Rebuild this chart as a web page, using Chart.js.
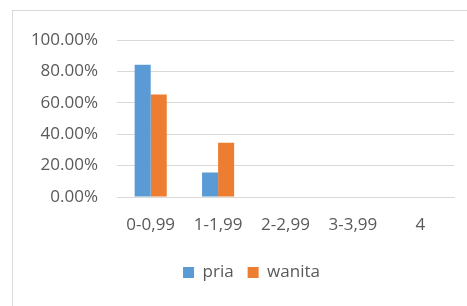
<!DOCTYPE html>
<html>
<head>
<meta charset="utf-8">
<script src="https://cdn.jsdelivr.net/npm/chart.js@4/dist/chart.umd.min.js"></script>
<style>
  html, body { margin: 0; padding: 0; background: #fff; overflow: hidden; }
  body { width: 467px; height: 306px; position: relative; }
  .frame {
    position: absolute; left: 12px; top: 10px;
    width: 478px; height: 296px;
    border-top: 1px solid #d9d9d9; border-left: 1px solid #d9d9d9;
  }
  .frame canvas { display: block; }
</style>
</head>
<body>
<div class="frame"><canvas id="grafico" width="478" height="295"></canvas></div>
<script>
// kategori dan nilai (persen)
const kategori = ['0-0,99', '1-1,99', '2-2,99', '3-3,99', '4'];
const nilaiPria = [84.4, 15.6, 0, 0, 0];
const nilaiWanita = [65.4, 34.6, 0, 0, 0];
const tickY = [0, 20, 40, 60, 80, 100];

const warnaTeks = '#595959';
const warnaGrid = '#d9d9d9';
const huruf = { family: 'Open Sans', size: 17 };

// geser legenda sedikit ke kanan, seperti di gambar asli
const geserLegenda = {
  id: 'geserLegenda',
  afterLayout(chart) {
    if (!chart.legend) return;
    chart.legend.left += 18;
    chart.legend.right += 18;
  },
};

new Chart(document.getElementById('grafico'), {
  type: 'bar',
  data: {
    labels: kategori,
    datasets: [
      { label: 'pria', data: nilaiPria, backgroundColor: '#5B9BD5' },
      { label: 'wanita', data: nilaiWanita, backgroundColor: '#ED7D31' },
    ],
  },
  options: {
    responsive: false,
    animation: false,
    categoryPercentage: 0.476,
    barPercentage: 1,
    layout: { padding: { top: 27, right: 37, left: 0, bottom: 15 } },
    plugins: {
      tooltip: { enabled: false },
      legend: {
        position: 'bottom',
        labels: {
          boxWidth: 11,
          boxHeight: 11,
          padding: 14,
          color: warnaTeks,
          font: huruf,
        },
      },
    },
    scales: {
      x: {
        grid: { display: false, drawTicks: false },
        border: { color: warnaGrid },
        ticks: { color: warnaTeks, font: huruf, padding: 18, maxRotation: 0 },
        afterFit: (s) => { s.height = 53; },
      },
      y: {
        min: 0,
        max: 100,
        afterBuildTicks: (s) => { s.ticks = tickY.map((v) => ({ value: v })); },
        grid: { color: warnaGrid, drawTicks: false },
        border: { display: false },
        ticks: {
          color: warnaTeks,
          font: huruf,
          padding: 19,
          callback: (v) => `${v.toFixed(2)}%`,
        },
        afterFit: (s) => { s.width = 104; },
      },
    },
  },
  plugins: [geserLegenda],
});
</script>
</body>
</html>
